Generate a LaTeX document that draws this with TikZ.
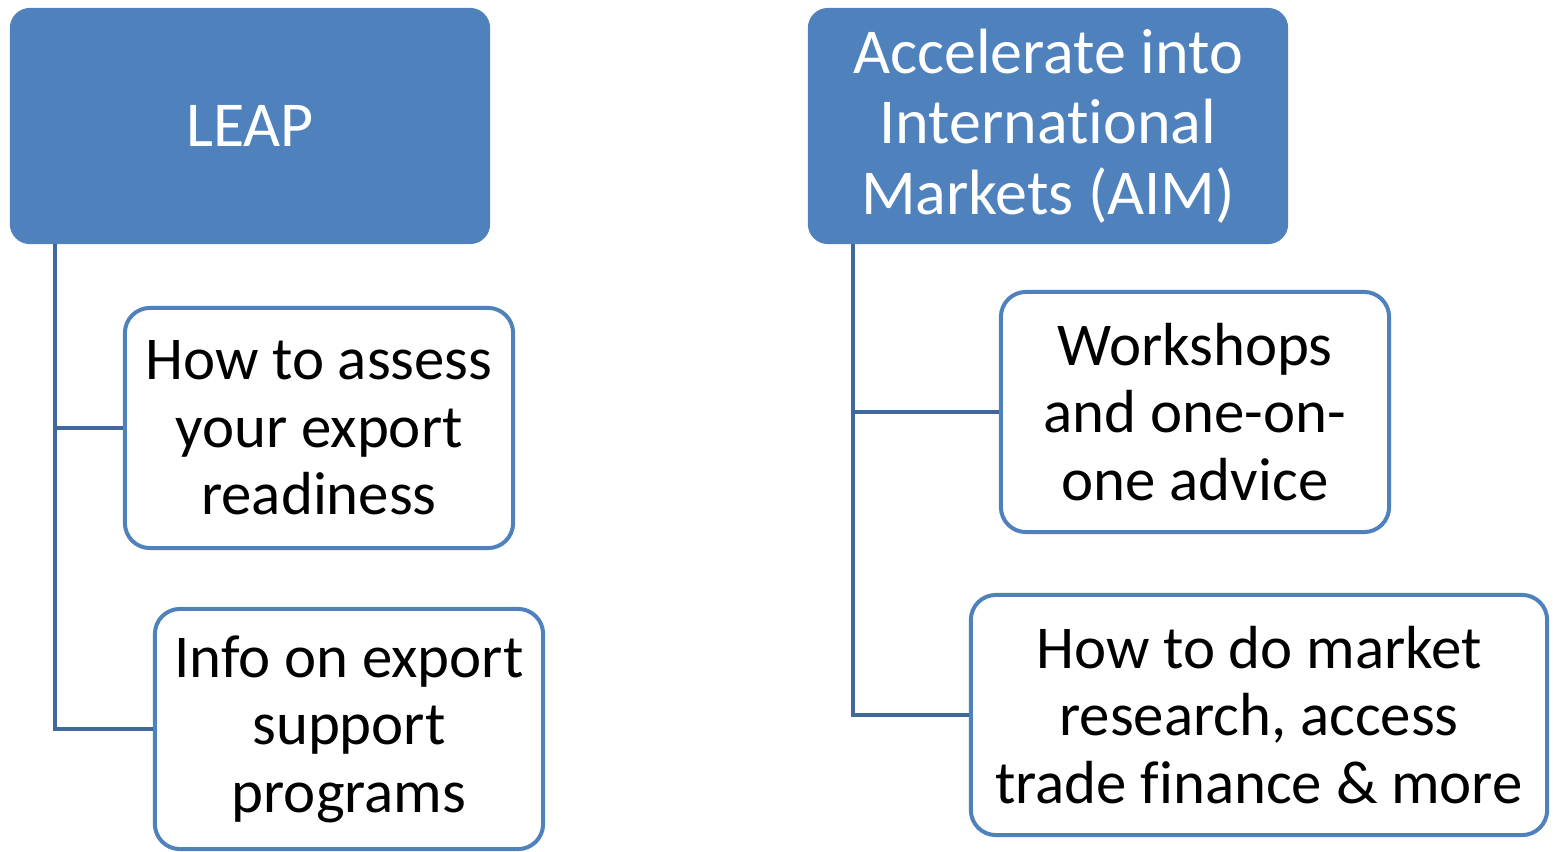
\documentclass[tikz,border=0pt]{standalone}
\usepackage{fontspec}
\setmainfont[Ligatures=NoCommon]{Carlito}
\definecolor{accblue}{HTML}{4F81BD}
\definecolor{linkblue}{HTML}{41689A}

\begin{document}
\begin{tikzpicture}[x=0.01cm,y=-0.01cm]
\tikzstyle {topbox}=[rectangle, rounded corners=0.2cm, fill=accblue, draw=none, text=white, align=center, font=\fontsize{18.2}{20}\selectfont, minimum width=4.8cm, minimum height=2.36cm]
\tikzstyle {subbox}=[rectangle, rounded corners=0.25cm, fill=white, draw=accblue, line width=0.04cm, align=center, font=\fontsize{17.3}{19.2}\selectfont, minimum height=2.4cm]
\tikzstyle {link}=[draw=linkblue, line width=0.04cm]
\useasboundingbox (0,0) rectangle (1554,851);
% LEAP side
\node (leap) [topbox] at (250,126) {LEAP};
\node (assess) [subbox, minimum width=3.88cm] at (319,428) {How to assess\\your export\\readiness};
\node (info) [subbox, minimum width=3.88cm] at (349,729) {Info on export\\support\\programs};
\coordinate (leaptrunk) at (55,244);
\draw [link] (leaptrunk) |- (assess.west);
\draw [link] (leaptrunk) |- (info.west);
% AIM side
\node (aim) [topbox] at (1048,126) {Accelerate into\\International\\Markets (AIM)};
\node (workshop) [subbox, minimum width=3.88cm] at (1195,412) {Workshops\\and one-on-\\one advice};
\node (research) [subbox, minimum width=5.76cm] at (1259,715) {How to do market\\research, access\\trade finance \& more};
\coordinate (aimtrunk) at (853,244);
\draw [link] (aimtrunk) |- (workshop.west);
\draw [link] (aimtrunk) |- (research.west);
\end{tikzpicture}
\end{document}
